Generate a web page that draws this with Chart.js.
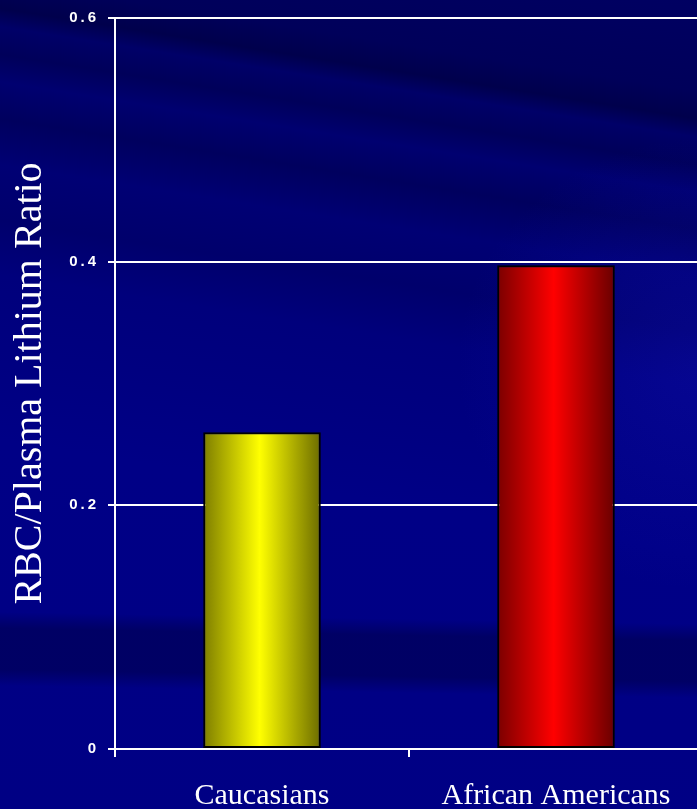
<!DOCTYPE html>
<html>
<head>
<meta charset="utf-8">
<title>RBC/Plasma Lithium Ratio</title>
<script src="https://cdn.jsdelivr.net/npm/chart.js@4/dist/chart.umd.min.js"></script>
<style>
  html, body { margin: 0; padding: 0; overflow: hidden; background: #000082; }
  #stage {
    position: relative;
    width: 703px;
    height: 809px;
    background:
      radial-gradient(ellipse 35% 28% at 100% 45%, rgba(20, 20, 200, 0.30), rgba(20, 20, 200, 0) 100%),
      linear-gradient(181deg, rgba(0,0,40,0) 0%, rgba(0,0,40,0) 76%, rgba(0,0,40,0.35) 78%, rgba(0,0,40,0.35) 83%, rgba(0,0,40,0) 85%, rgba(0,0,40,0) 100%),
      linear-gradient(189deg, #000062 0%, #00005a 10%, #00004c 13%, #000068 15%, #00005a 18%, #000070 21%, #00005e 25%, #000074 30%, #00006c 36%, #00007c 42%, #000080 50%, #000086 60%, #000084 100%);
  }
  canvas { display: block; }
</style>
</head>
<body>
<div id="stage"><canvas id="chart"></canvas></div>
<script>
// Groups on the x axis and the mean RBC/plasma lithium ratio for each
const categories = ['Caucasians', 'African Americans'];
const ratios = [0.26, 0.397];

// Value axis range and labelled ticks
const yMin = 0;
const yMax = 0.6;
const yTicks = [0, 0.2, 0.4, 0.6];
const yTitle = 'RBC/Plasma Lithium Ratio';

// Edge / centre / edge shades for the cylinder-like bar fill
const barShades = [
  ['#7d7d00', '#ffff00', '#6c6c00'],
  ['#7a0000', '#ff0000', '#680000']
];

const BAR_FRACTION = 0.4; // categoryPercentage * barPercentage

function barFill(context) {
  const chart = context.chart;
  const i = context.dataIndex;
  const shades = barShades[i % barShades.length];
  const xScale = chart.scales && chart.scales.x;
  if (!chart.chartArea || !xScale) return shades[1];
  const cx = xScale.getPixelForValue(i);
  const half = (xScale.width / categories.length) * BAR_FRACTION / 2;
  const g = chart.ctx.createLinearGradient(cx - half, 0, cx + half, 0);
  g.addColorStop(0, shades[0]);
  g.addColorStop(0.48, shades[1]);
  g.addColorStop(1, shades[2]);
  return g;
}

// Spaced-out digits on the value axis labels
const spacedTickLabels = {
  id: 'spacedTickLabels',
  beforeDraw(chart) {
    const scale = chart.scales.y;
    if (!scale || scale._spaced) return;
    const original = scale.drawLabels.bind(scale);
    scale.drawLabels = function (area) {
      const c = this.ctx;
      c.save();
      c.letterSpacing = '3px';
      original(area);
      c.restore();
    };
    scale._spaced = true;
  }
};

new Chart(document.getElementById('chart'), {
  type: 'bar',
  data: {
    labels: categories,
    datasets: [{
      data: ratios,
      backgroundColor: barFill,
      borderColor: '#000000',
      borderWidth: 2,
      borderSkipped: false,
      categoryPercentage: 0.8,
      barPercentage: 0.5
    }]
  },
  options: {
    responsive: true,
    maintainAspectRatio: false,
    animation: false,
    devicePixelRatio: 1,
    layout: { padding: { top: 17, left: 0, right: 0, bottom: 0 } },
    plugins: {
      legend: { display: false },
      tooltip: { enabled: false },
      title: { display: false }
    },
    scales: {
      x: {
        offset: true,
        afterFit(scale) { scale.height = 60; },
        grid: {
          display: true,
          drawOnChartArea: false,
          drawTicks: true,
          tickLength: 8,
          color: '#ffffff',
          lineWidth: 2,
          offset: true
        },
        border: { display: true, color: '#ffffff', width: 2 },
        ticks: {
          color: '#ffffff',
          padding: 21,
          maxRotation: 0,
          font: { family: '"Liberation Serif", "Times New Roman", serif', size: 30 }
        }
      },
      y: {
        min: yMin,
        max: yMax,
        afterBuildTicks(scale) { scale.ticks = yTicks.map(v => ({ value: v })); },
        afterFit(scale) { scale.width = 115; },
        grid: {
          color: '#ffffff',
          lineWidth: 2,
          drawTicks: true,
          tickLength: 7
        },
        border: { display: true, color: '#ffffff', width: 2 },
        ticks: {
          color: '#ffffff',
          padding: 9,
          font: { family: '"Liberation Sans", Arial, sans-serif', size: 15, weight: 'bold' },
          callback(value) { return value === 0 ? '0' : Number(value).toFixed(1); }
        },
        title: {
          display: true,
          text: yTitle,
          color: '#ffffff',
          padding: { top: 6, bottom: 0 },
          font: { family: '"Liberation Serif", "Times New Roman", serif', size: 40, weight: 'normal' }
        }
      }
    }
  },
  plugins: [spacedTickLabels]
});
</script>
</body>
</html>
